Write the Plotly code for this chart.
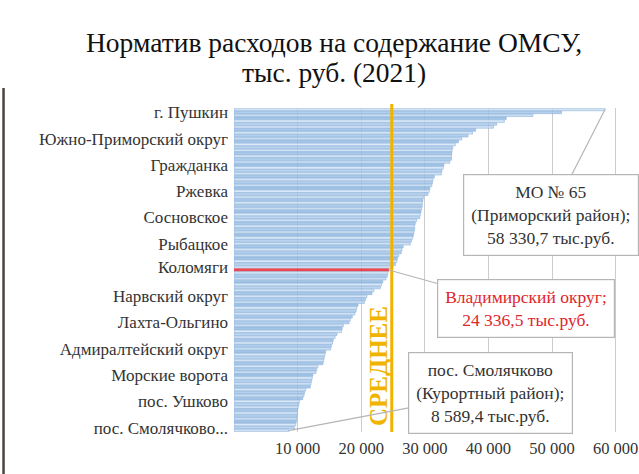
import plotly.graph_objects as go

# ---- data ----
values = [
    58330.7, 51500, 47000, 42800, 42500, 41300, 40800, 38000, 37500, 36800,
    35800, 35300, 34800, 34400, 34300, 34250, 34200, 34200, 33900, 33000,
    32900, 32700, 32600, 31500, 31300, 31200, 31100, 30800, 30700, 30500,
    29800, 29700, 29600, 29600, 29500, 29400, 29300, 29200, 28700, 28500,
    28400, 28400, 28300, 28200, 28100, 27900, 27700, 26600, 26400, 26300,
    25900, 25700, 25600, 25400, 25000, 24336.5, 24200, 24100, 23900, 23400,
    23200, 23000, 22000, 21700, 20900, 20700, 20500, 19500, 19300, 19200,
    19000, 18600, 18300, 18100, 17200, 17000, 16900, 16200, 15900, 15600,
    15500, 15300, 15200, 14400, 14300, 14200, 14100, 14000, 13200, 13000,
    12900, 12400, 12300, 12200, 12100, 12000, 11300, 11100, 11000, 10800,
    10300, 10200, 10100, 10000, 10000, 9900, 9900, 9800, 9700, 9500,
    8589.4,
]
label_positions = [1, 10, 19, 28, 37, 46, 54, 64, 73, 82, 91, 100, 109]
label_names = [
    "г. Пушкин", "Южно-Приморский округ", "Гражданка", "Ржевка", "Сосновское",
    "Рыбацкое", "Коломяги", "Нарвский округ", "Лахта-Ольгино",
    "Адмиралтейский округ", "Морские ворота", "пос. Ушково", "пос. Смолячково...",
]
highlight_index = 55          # Владимирский округ
mean_value = 24800
x_tickvals = [10000, 20000, 30000, 40000, 50000, 60000]
x_ticktext = ["10 000", "20 000", "30 000", "40 000", "50 000", "60 000"]
title_lines = ["Норматив расходов на содержание ОМСУ,", "тыс. руб. (2021)"]

# ---- style ----
shades = ["#cfe1f3", "#a9c9ea", "#c2d9f0", "#93bbe3", "#d6e6f6", "#b3cfec", "#c9ddf2", "#9fc2e7"]
colors = [shades[i % len(shades)] for i in range(len(values))]
colors[highlight_index] = "#e8303a"
line_colors = ["#80aad6"] * len(values)
line_colors[highlight_index] = "#e8303a"

SERIF = "Liberation Serif"
positions = list(range(len(values)))

fig = go.Figure()
fig.add_trace(go.Bar(
    x=values, y=positions, orientation="h",
    marker=dict(color=colors, line=dict(color=line_colors, width=0.6)),
    opacity=0.88,
    hoverinfo="x",
))

fig.update_layout(
    width=639, height=474,
    margin=dict(l=234, r=17, t=108, b=42),
    paper_bgcolor="white", plot_bgcolor="white",
    bargap=0.12,
    showlegend=False,
    font=dict(family=SERIF, color="#333333"),
    xaxis=dict(
        range=[0, 61000], tickvals=x_tickvals, ticktext=x_ticktext,
        showgrid=True, gridcolor="#cccccc", gridwidth=1,
        zeroline=False, showline=False, ticks="", automargin=False,
        tickfont=dict(family=SERIF, size=16.5, color="#333333"),
        ticklabelstandoff=4,
    ),
    yaxis=dict(
        range=[len(values) - 0.5, -0.5],
        tickvals=label_positions, ticktext=label_names,
        showgrid=False, zeroline=False, showline=False, ticks="", automargin=False,
        tickfont=dict(family=SERIF, size=17, color="#333333"),
        ticklabelstandoff=5,
    ),
)

# Title (two lines)
for line_text, shift in zip(title_lines, [66, 36]):
    fig.add_annotation(
        text=line_text,
        xref="paper", yref="paper", x=0.257, y=1.0, yshift=shift,
        xanchor="center", yanchor="middle", showarrow=False,
        font=dict(family=SERIF, size=27.5, color="#111111"),
    )

# mean line
fig.add_shape(type="line", xref="x", yref="paper",
              x0=mean_value, x1=mean_value, y0=0, y1=1.012,
              line=dict(color="#f0b400", width=3))
fig.add_annotation(
    text="<b>СРЕДНЕЕ</b>", textangle=-90,
    xref="x", yref="y", x=mean_value, y=88, xshift=-13,
    showarrow=False,
    font=dict(family=SERIF, size=25, color="#f0b400"),
)

# left frame line
fig.add_shape(type="line", xref="paper", yref="paper",
              x0=-0.594, x1=-0.594, y0=-0.14, y1=1.062,
              line=dict(color="#4a4440", width=2.5))

# Callout boxes
box_common = dict(showarrow=True, arrowhead=0, arrowwidth=1.2, arrowcolor="#b5b5b5",
                  bordercolor="#b5b5b5", borderwidth=1.2, borderpad=7,
                  bgcolor="white", xref="x", yref="y", axref="pixel", ayref="pixel")
fig.add_annotation(
    text="МО № 65<br>(Приморский район);<br>58 330,7 тыс.руб.",
    x=values[0], y=0, ax=-54, ay=106,
    font=dict(family=SERIF, size=17.5, color="#333333"),
    **box_common,
)
fig.add_annotation(
    text="Владимирский округ;<br>24 336,5 тыс.руб.",
    x=values[highlight_index], y=highlight_index, ax=137, ay=38,
    font=dict(family=SERIF, size=17.5, color="#e0262b"),
    **box_common,
)
fig.add_annotation(
    text="пос. Смолячково<br>(Курортный район);<br>8 589,4 тыс.руб.",
    x=values[-1], y=len(values) - 1, ax=202, ay=-38,
    font=dict(family=SERIF, size=17.5, color="#333333"),
    **box_common,
)

fig.write_html("out.html", config={"displayModeBar": False},
               post_script="document.body.style.margin='0px';")
